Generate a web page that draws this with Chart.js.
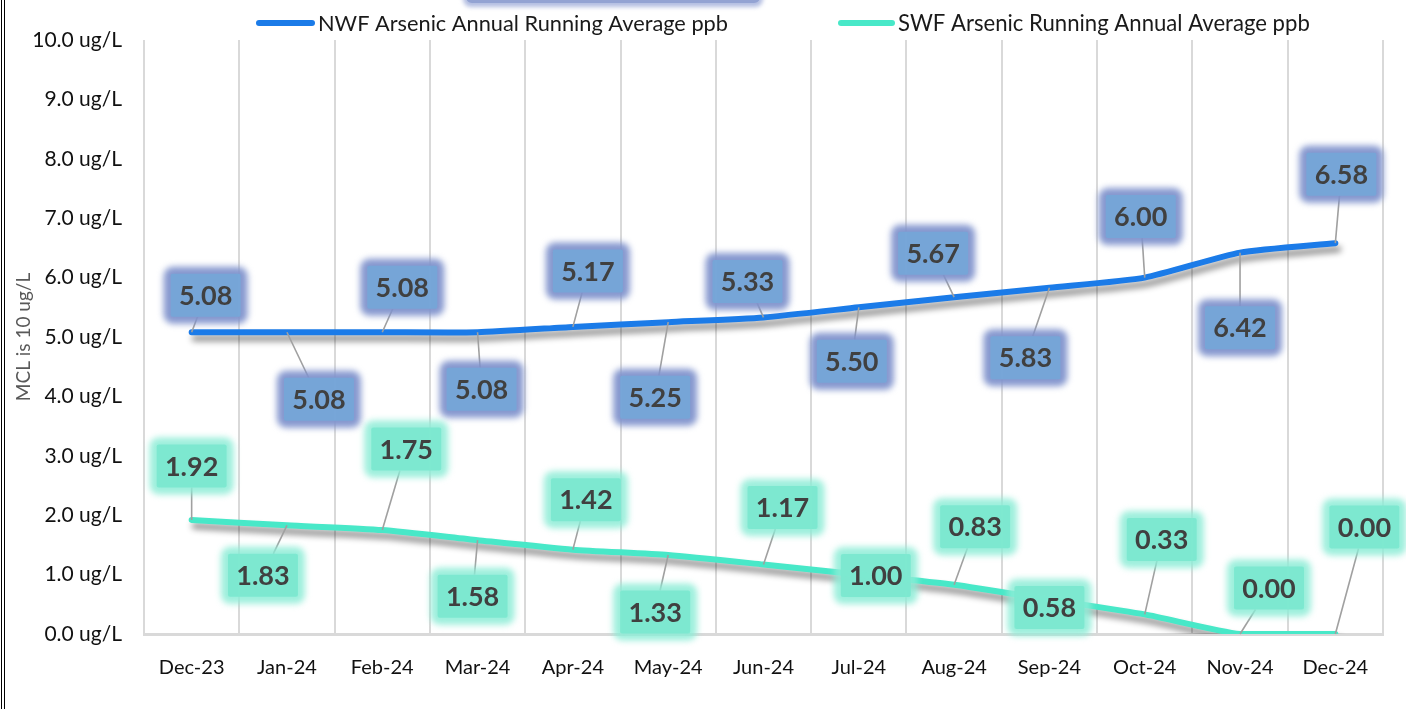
<!DOCTYPE html>
<html><head><meta charset="utf-8">
<script src="https://cdn.jsdelivr.net/npm/chart.js@4.4.1/dist/chart.umd.min.js"></script>
<style>
html,body{margin:0;padding:0;background:#fff;}
#wrap{position:relative;width:1406px;height:709px;overflow:hidden;}
#border{position:absolute;left:1px;top:0;width:4px;height:709px;border-left:4px double #000;box-sizing:border-box;}
canvas{position:absolute;left:0;top:0;}
</style></head><body>
<div id="wrap"><canvas id="c" width="1406" height="709"></canvas><div id="border"></div></div>
<script>
// ---- data ----
const categories = ['Dec-23','Jan-24','Feb-24','Mar-24','Apr-24','May-24','Jun-24','Jul-24','Aug-24','Sep-24','Oct-24','Nov-24','Dec-24'];
const nwfLabel = 'NWF Arsenic Annual Running Average ppb';
const swfLabel = 'SWF Arsenic Running Annual Average ppb';
const nwfValues = [5.08,5.08,5.08,5.08,5.17,5.25,5.33,5.50,5.67,5.83,6.00,6.42,6.58];
const swfValues = [1.92,1.83,1.75,1.58,1.42,1.33,1.17,1.00,0.83,0.58,0.33,0.00,0.00];
const yMin = 0, yMax = 10, yStep = 1;
const yUnit = ' ug/L';
const yTitle = 'MCL is 10 ug/L';

// ---- label layout (pixel offsets of data-label boxes from their points) ----
const nwfLabelOffsets = [[14,-37],[32,67],[20,-45],[4,57],[15,-56],[-13,75],[-16,-36],[-7,54],[-21,-44],[-24,70],[-4,-61],[0,75],[6,-69]];
const swfLabelOffsets = [[0,-54],[-24,50],[24,-81],[-5,56],[13,-50],[-13,57],[19,-57],[17,1],[21,-58],[0,8],[17,-75],[29,-46],[29,-107]];

const NWF_COLOR = '#1B7BE8';
const SWF_COLOR = '#48E8C8';
const FONT = 'Lato, "Open Sans", sans-serif';

const labelStyles = [
  {fill:'rgba(118,166,216,0.95)', glow:'rgba(128,146,204,0.95)', offsets:nwfLabelOffsets},
  {fill:'rgba(124,232,208,0.93)', glow:'rgba(140,236,214,0.85)', offsets:swfLabelOffsets}
];

const lineShadow = {
  id:'lineShadow',
  beforeDatasetDraw(chart){
    const ctx = chart.ctx; ctx.save();
    ctx.shadowColor='rgba(0,0,0,0.45)'; ctx.shadowBlur=6; ctx.shadowOffsetX=3; ctx.shadowOffsetY=6;
  },
  afterDatasetDraw(chart){ chart.ctx.restore(); }
};

const dataLabels = {
  id:'dataLabels',
  afterDatasetsDraw(chart){
    const ctx = chart.ctx;
    const W = 70, H = 43;
    chart.data.datasets.forEach((ds, i) => {
      const meta = chart.getDatasetMeta(i);
      const st = labelStyles[i];
      meta.data.forEach((pt, j) => {
        const off = st.offsets[j];
        const cx = pt.x + off[0], cy = pt.y + off[1];
        const dx = cx - pt.x, dy = cy - pt.y;
        const inside = Math.abs(dx) <= W/2 && Math.abs(dy) <= H/2;
        if (!inside) {
          const fx = dx === 0 ? Infinity : (W/2)/Math.abs(dx);
          const fy = dy === 0 ? Infinity : (H/2)/Math.abs(dy);
          const s = 1 - Math.min(fx, fy);
          ctx.save();
          ctx.strokeStyle = '#A0A0A0'; ctx.lineWidth = 1.6;
          ctx.beginPath(); ctx.moveTo(pt.x, pt.y); ctx.lineTo(pt.x + dx*s, pt.y + dy*s); ctx.stroke();
          ctx.restore();
        }
      });
      meta.data.forEach((pt, j) => {
        const off = st.offsets[j];
        const cx = pt.x + off[0], cy = pt.y + off[1];
        ctx.save();
        ctx.filter = 'blur(3px)';
        ctx.fillStyle = st.glow;
        ctx.beginPath(); ctx.roundRect(cx-W/2-7, cy-H/2-7, W+14, H+14, 9); ctx.fill();
        ctx.filter = 'none';
        ctx.fillStyle = st.fill;
        ctx.beginPath(); ctx.roundRect(cx-W/2, cy-H/2, W, H, 2); ctx.fill();
        ctx.fillStyle = '#404040';
        ctx.font = 'bold 27px ' + FONT;
        ctx.textAlign = 'center'; ctx.textBaseline = 'middle';
        ctx.fillText(ds.data[j].toFixed(2), cx, cy + 1);
        ctx.restore();
      });
    });
  }
};

const topDecor = {
  id:'topDecor',
  beforeDraw(chart){
    const ctx = chart.ctx;
    ctx.save();
    ctx.filter = 'blur(2px)';
    ctx.fillStyle = 'rgba(170,182,222,0.9)';
    ctx.beginPath(); ctx.roundRect(463, -20, 300, 27, 8); ctx.fill();
    ctx.filter = 'none';
    ctx.fillStyle = '#93A3D3';
    ctx.beginPath(); ctx.roundRect(466, -20, 294, 23, 6); ctx.fill();
    ctx.restore();
  }
};

const customLegend = {
  id:'customLegend',
  afterDraw(chart){
    const ctx = chart.ctx;
    const items = [
      {x0:256, x1:315, tx:318, tw:410, ds:chart.data.datasets[0]},
      {x0:838, x1:895, tx:898, tw:412, ds:chart.data.datasets[1]}
    ];
    const y = 23;
    items.forEach(it => {
      ctx.save();
      ctx.strokeStyle = it.ds.borderColor; ctx.lineWidth = 6; ctx.lineCap = 'round';
      ctx.beginPath(); ctx.moveTo(it.x0+3, y); ctx.lineTo(it.x1-3, y); ctx.stroke();
      ctx.font = '20px ' + FONT;
      const w = ctx.measureText(it.ds.label).width;
      const size = 20 * it.tw / w;
      ctx.font = size.toFixed(2) + 'px ' + FONT;
      ctx.fillStyle = '#1a1a1a'; ctx.textBaseline = 'middle'; ctx.textAlign = 'left';
      ctx.fillText(it.ds.label, it.tx, y + 1);
      ctx.restore();
    });
  }
};

new Chart(document.getElementById('c'), {
  type:'line',
  data:{
    labels: categories,
    datasets:[
      {label:nwfLabel, data:nwfValues, borderColor:NWF_COLOR, backgroundColor:NWF_COLOR, borderWidth:6, pointRadius:0, tension:0.2, borderCapStyle:'round', borderJoinStyle:'round', fill:false},
      {label:swfLabel, data:swfValues, borderColor:SWF_COLOR, backgroundColor:SWF_COLOR, borderWidth:6, pointRadius:0, tension:0.2, borderCapStyle:'round', borderJoinStyle:'round', fill:false}
    ]
  },
  options:{
    responsive:false, animation:false, devicePixelRatio:1,
    layout:{padding:{top:40, right:23, left:0, bottom:0}},
    plugins:{legend:{display:false}, tooltip:{enabled:false}},
    scales:{
      x:{
        offset:true,
        grid:{display:true, offset:true, color:'#D9D9D9', lineWidth:2, drawTicks:false},
        border:{display:true, color:'#D9D9D9', width:3},
        ticks:{color:'#111', font:{family:FONT, size:20}, padding:22, maxRotation:0, autoSkip:false},
        afterFit(s){ s.height = 75; }
      },
      y:{
        min:yMin, max:yMax,
        grid:{display:false, drawTicks:false},
        border:{display:false},
        ticks:{stepSize:yStep, color:'#111', font:{family:FONT, size:21}, padding:22,
          callback:(v)=> Number(v).toFixed(1) + yUnit},
        title:{display:true, text:yTitle, color:'#595959', font:{family:FONT, size:19}, padding:{top:12, bottom:0}},
        afterFit(s){ s.width = 144; }
      }
    }
  },
  plugins:[topDecor, lineShadow, dataLabels, customLegend]
});
</script>
</body></html>
